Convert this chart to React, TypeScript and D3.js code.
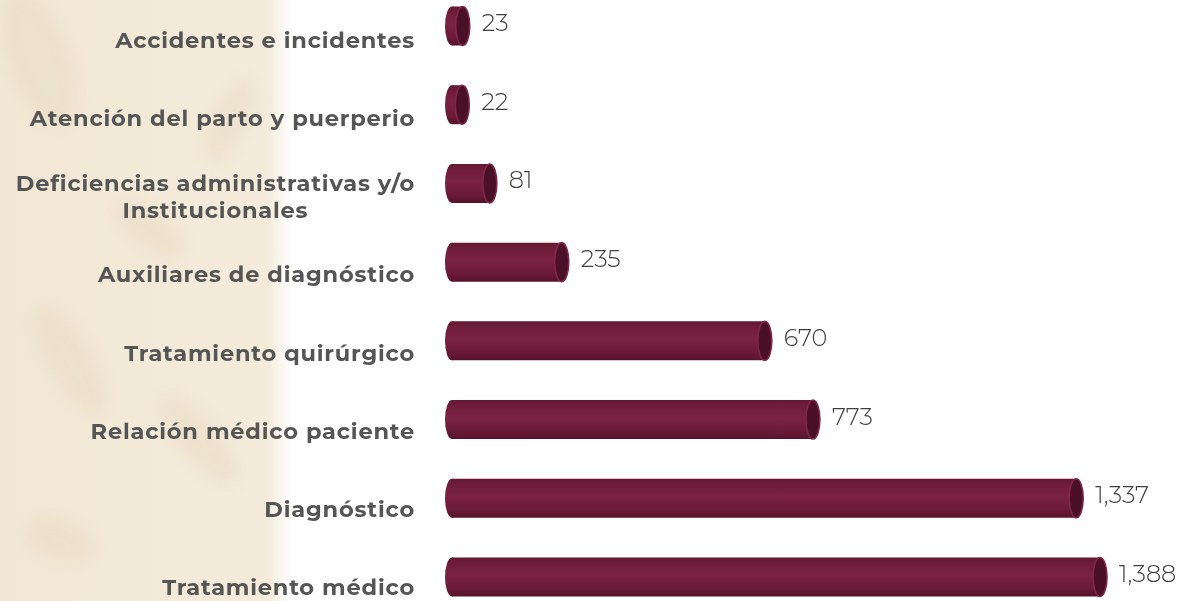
import React, { useLayoutEffect, useRef, useState } from "react";
import * as d3 from "d3";

const categories: string[][] = [
  ["Accidentes e incidentes"],
  ["Atención del parto y puerperio"],
  ["Deficiencias administrativas y/o", "Institucionales"],
  ["Auxiliares de diagnóstico"],
  ["Tratamiento quirúrgico"],
  ["Relación médico paciente"],
  ["Diagnóstico"],
  ["Tratamiento médico"],
];
const values: number[] = [23, 22, 81, 235, 670, 773, 1337, 1388];
const valueLabels: string[] = ["23", "22", "81", "235", "670", "773", "1,337", "1,388"];

const W = 1178;
const H = 601;

export default function App() {
  const ids = categories.map((c) => c.join(" "));
  const x = d3.scaleLinear().domain([0, 1388]).range([452, 1100]);
  const y = d3.scalePoint<string>().domain(ids).range([26, 577]);
  const yl = d3.scalePoint<string>().domain(ids).range([48, 595]);
  const bh = 39;
  const rx = 7;
  const ry = bh / 2;
  const labelRight = 415;
  const firstLineRef = useRef<SVGTextElement | null>(null);
  const [firstW, setFirstW] = useState(400);

  useLayoutEffect(() => {
    if (firstLineRef.current) {
      setFirstW(firstLineRef.current.getComputedTextLength());
    }
  }, []);

  const bodyPath = (x0: number, x1: number, cy: number) => {
    const p = d3.path();
    p.moveTo(x0, cy - ry);
    p.lineTo(x1, cy - ry);
    p.lineTo(x1, cy + ry);
    p.lineTo(x0, cy + ry);
    p.closePath();
    return p.toString();
  };

  const labelFont = {
    fontFamily: "Montserrat, 'Open Sans', sans-serif",
    fontWeight: 700,
    fontSize: 22.5,
    letterSpacing: 0.8,
    fill: "#555555",
  } as const;

  return (
    <div style={{ position: "fixed", left: 0, top: 0, width: W, height: H, background: "#fff" }}>
      <svg width={W} height={H} style={{ display: "block" }}>
        <defs>
          <linearGradient id="bgfade" x1="0" x2="1" y1="0" y2="0">
            <stop offset="0" stopColor="#f2e7d4" stopOpacity="1" />
            <stop offset="0.92" stopColor="#f4ebdb" stopOpacity="1" />
            <stop offset="1" stopColor="#f6efe3" stopOpacity="0" />
          </linearGradient>
          <linearGradient id="barg" x1="0" x2="0" y1="0" y2="1">
            <stop offset="0" stopColor="#641832" />
            <stop offset="0.15" stopColor="#6f1d3a" />
            <stop offset="0.45" stopColor="#7a2242" />
            <stop offset="0.8" stopColor="#6a1a36" />
            <stop offset="1" stopColor="#561229" />
          </linearGradient>
          <filter id="blur" x="-30%" y="-30%" width="160%" height="160%">
            <feGaussianBlur stdDeviation="7" />
          </filter>
        </defs>
        <rect x={0} y={0} width={292} height={H} fill="url(#bgfade)" />
        <g filter="url(#blur)" opacity={0.3} fill="#e2d2b6">
          <ellipse cx={40} cy={60} rx={30} ry={70} transform="rotate(-20 40 60)" />
          <ellipse cx={150} cy={230} rx={40} ry={18} transform="rotate(35 150 230)" />
          <ellipse cx={70} cy={360} rx={22} ry={60} transform="rotate(-30 70 360)" />
          <ellipse cx={200} cy={440} rx={20} ry={55} transform="rotate(-40 200 440)" />
          <ellipse cx={60} cy={540} rx={35} ry={20} transform="rotate(20 60 540)" />
          <ellipse cx={230} cy={120} rx={18} ry={45} transform="rotate(25 230 120)" />
        </g>
        {categories.map((lines, i) => {
          const id = ids[i];
          const cy = y(id)!;
          const x0 = x(0);
          const x1 = x(values[i]);
          const lh = 27;
          const base = yl(id)! - ((lines.length - 1) * lh) / 2;
          return (
            <g key={id}>
              {lines.map((l, k) =>
                k === 0 ? (
                  <text
                    key={k}
                    ref={lines.length > 1 ? firstLineRef : undefined}
                    x={labelRight}
                    y={base}
                    textAnchor="end"
                    {...labelFont}
                  >
                    {l}
                  </text>
                ) : (
                  <text
                    key={k}
                    x={labelRight - firstW / 2}
                    y={base + k * lh}
                    textAnchor="middle"
                    {...labelFont}
                  >
                    {l}
                  </text>
                )
              )}
              <path d={bodyPath(x0, x1, cy)} fill="url(#barg)" />
              <ellipse cx={x0} cy={cy} rx={rx} ry={ry} fill="url(#barg)" />
              <ellipse cx={x1} cy={cy} rx={rx} ry={ry} fill="#4a1025" stroke="#80264a" strokeWidth={1.6} />
              <text
                x={x1 + rx + 12}
                y={cy + 5}
                fontFamily="Montserrat, Lato, 'Open Sans', sans-serif"
                fontWeight={300}
                fontSize={24}
                fill="#3f3f3f"
              >
                {valueLabels[i]}
              </text>
            </g>
          );
        })}
      </svg>
    </div>
  );
}
